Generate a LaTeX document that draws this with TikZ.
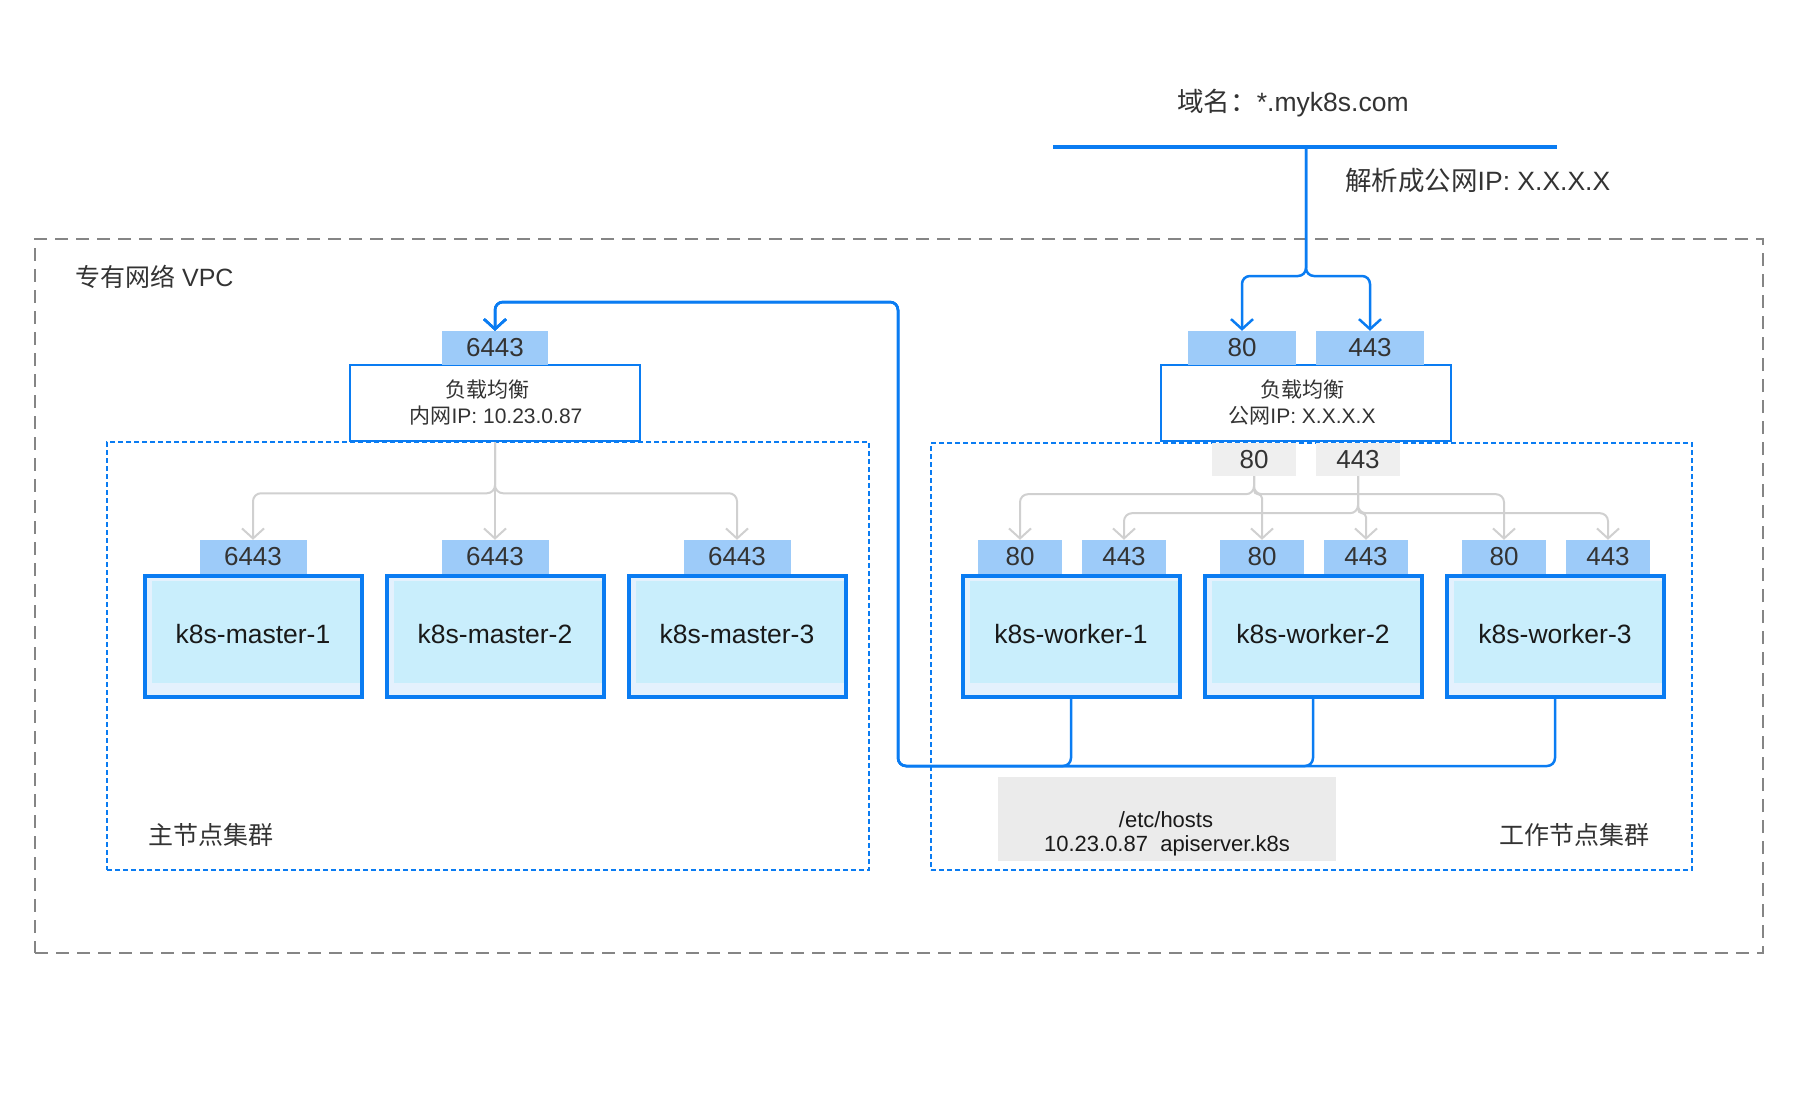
\documentclass[tikz,border=0pt]{standalone}
\usepackage{fontspec}
\setmainfont{Liberation Sans}
\newfontfamily\cjk{Noto Sans CJK SC}
\usetikzlibrary{arrows.meta}
\definecolor{bluec}{HTML}{0A7CF2}
\definecolor{portc}{HTML}{9DCBF9}
\definecolor{innerc}{HTML}{C9EEFC}
\definecolor{outerc}{HTML}{E4F1FD}
\definecolor{gportc}{HTML}{EFEFEF}
\definecolor{hostc}{HTML}{EBEBEB}
\definecolor{grayc}{HTML}{D0D0D0}
\definecolor{framec}{HTML}{858585}
\definecolor{textc}{HTML}{333333}
\begin{document}
\begin{tikzpicture}[x=1pt,y=-1pt,
  txt/.style={text=textc, inner sep=0pt},
  big/.style={font=\fontsize{25}{30}\selectfont},
  domainf/.style={font=\fontsize{26.5}{30}\selectfont},
  small/.style={font=\fontsize{21}{25}\selectfont},
  hostf/.style={font=\fontsize{22}{25}\selectfont},
  port/.style={fill=portc, text=textc, inner sep=0pt, minimum height=34pt, font=\fontsize{26}{30}\selectfont},
  gport/.style={fill=gportc, text=textc, inner sep=0pt, minimum height=33pt, minimum width=84pt, font=\fontsize{26}{30}\selectfont},
  server/.style={draw=bluec, line width=4pt, fill=outerc, minimum width=217pt, minimum height=121pt, inner sep=0pt, text=black!90, font=\fontsize{26.5}{30}\selectfont,
    path picture={\fill[innerc] ([xshift=7pt,yshift=-5pt]path picture bounding box.north west) rectangle ([xshift=-2pt,yshift=14pt]path picture bounding box.south east);}},
  lb/.style={draw=bluec, line width=2.5pt, fill=white, minimum width=290pt, minimum height=76pt, inner sep=0pt},
  cluster/.style={draw=bluec, line width=2pt, dash pattern=on 5pt off 3pt, inner sep=0pt},
  vpcframe/.style={draw=framec, line width=2pt, dash pattern=on 13pt off 8pt, inner sep=0pt},
  garrow/.style={draw=grayc, line width=2pt, rounded corners=8pt, -{Straight Barb[length=10pt,width=22pt]}},
  barrow/.style={draw=bluec, line width=2.5pt, rounded corners=8pt, -{Straight Barb[length=10pt,width=22pt]}},
]
\useasboundingbox (0,0) rectangle (1800,1116);

% frames
\node[vpcframe, minimum width=1728pt, minimum height=714pt] (vpc) at (899,596) {};
\node[cluster, minimum width=762pt, minimum height=428pt] (mcl) at (488,656) {};
\node[cluster, minimum width=761pt, minimum height=427pt] (wcl) at (1311.5,656.5) {};

% hosts box
\node[fill=hostc, minimum width=338pt, minimum height=84pt, inner sep=0pt] (hosts) at (1167,819) {};

% load balancers
\node[lb] (mlb) at (495,403) {};
\node[lb] (wlb) at (1306,403) {};
\node[port, minimum width=106pt] (mlp) at (495,348) {6443};
\node[port, minimum width=108pt] (wlp80) at (1242,348) {80};
\node[port, minimum width=108pt] (wlp443) at (1370,348) {443};
\node[gport] (g80) at (1254,459.5) {80};
\node[gport] (g443) at (1358,459.5) {443};

% servers and their ports
\node[server] (m1) at (253,636.5) {\raisebox{5pt}{k8s-master-1}};
\node[server] (m2) at (495,636.5) {\raisebox{5pt}{k8s-master-2}};
\node[server] (m3) at (737,636.5) {\raisebox{5pt}{k8s-master-3}};
\node[port, minimum width=107pt] (m1p) at (253,557) {6443};
\node[port, minimum width=107pt] (m2p) at (495,557) {6443};
\node[port, minimum width=107pt] (m3p) at (737,557) {6443};

\node[server] (w1) at (1071,636.5) {\raisebox{5pt}{k8s-worker-1}};
\node[server] (w2) at (1313,636.5) {\raisebox{5pt}{k8s-worker-2}};
\node[server] (w3) at (1555,636.5) {\raisebox{5pt}{k8s-worker-3}};
\node[port, minimum width=84pt] (w1p80) at (1020,557) {80};
\node[port, minimum width=84pt] (w1p443) at (1124,557) {443};
\node[port, minimum width=84pt] (w2p80) at (1262,557) {80};
\node[port, minimum width=84pt] (w2p443) at (1366,557) {443};
\node[port, minimum width=84pt] (w3p80) at (1504,557) {80};
\node[port, minimum width=84pt] (w3p443) at (1608,557) {443};

% gray connectors
\draw[garrow] (mlb.south) -- ++(0,51) -| (m1p.north);
\draw[garrow] (mlb.south) -- (m2p.north);
\draw[garrow] (mlb.south) -- ++(0,51) -| (m3p.north);

\draw[garrow] (g80.south) -- ++(0,18) -| (w1p80.north);
\draw[garrow, rounded corners=4pt] (g80.south) -- ++(0,18) -| (w2p80.north);
\draw[garrow] (g80.south) -- ++(0,18) -| (w3p80.north);
\draw[garrow] (g443.south) -- ++(0,37) -| (w1p443.north);
\draw[garrow, rounded corners=4pt] (g443.south) -- ++(0,37) -| (w2p443.north);
\draw[garrow] (g443.south) -- ++(0,37) -| (w3p443.north);

% domain line and blue connectors
\coordinate (dl) at (1053,147);
\coordinate (dr) at (1557,147);
\coordinate (dmid) at (1306,147);
\coordinate (split) at (1306,276);
\draw[bluec, line width=4pt] (dl) -- (dr);
\draw[barrow] (dmid) -- (split) -| (wlp80.north);
\draw[barrow] (dmid) -- (split) -| (wlp443.north);

\coordinate (lbot) at (898,766);
\coordinate (ltop) at (898,302);
\draw[barrow] (w1.south) |- (lbot) -- (ltop) -| (mlp.north);
\draw[barrow] (w2.south) |- (lbot) -- (ltop) -| (mlp.north);
\draw[barrow] (w3.south) |- (lbot) -- (ltop) -| (mlp.north);

% texts
\node[txt, domainf] (domain) at (1293,103) {{\cjk 域名：}*.myk8s.com};
\node[txt, domainf, anchor=west] (resolve) at (1345,181) {{\cjk 解析成公网}IP: X.X.X.X};
\node[txt, big, anchor=west] (vpclabel) at (75,277) {{\cjk 专有网络} VPC};
\node[txt, big, anchor=west] (mlabel) at (148,835) {\cjk 主节点集群};
\node[txt, big, anchor=west] (wlabel) at (1499,835) {\cjk 工作节点集群};

\node[txt, small] (mlbt1) at (487,390) {\cjk 负载均衡};
\node[txt, small] (mlbt2) at (496,416) {{\cjk 内网}IP: 10.23.0.87};
\node[txt, small] (wlbt1) at (1302,390) {\cjk 负载均衡};
\node[txt, small] (wlbt2) at (1302,416) {{\cjk 公网}IP: X.X.X.X};

\node[txt, hostf, text=black!90] (hostt1) at (1166,820) {/etc/hosts};
\node[txt, hostf, text=black!90] (hostt2) at (1167,846) {10.23.0.87~~apiserver.k8s};
\end{tikzpicture}
\end{document}
